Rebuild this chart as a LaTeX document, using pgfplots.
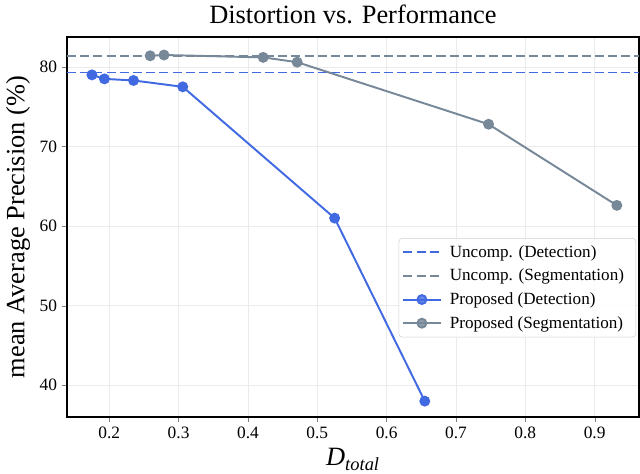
\documentclass[border=0pt]{standalone}
\usepackage{fontspec}
\setmainfont{Liberation Serif}
\usepackage{pgfplots}
\pgfplotsset{compat=1.18}
\usetikzlibrary{calc}

\definecolor{detblue}{RGB}{65,105,225}
\definecolor{seggray}{RGB}{119,136,153}

\begin{document}
\begin{tikzpicture}
\begin{axis}[
    name=ax,
    scale only axis,
    width=411.8pt, height=273.6pt,
    xmin=0.139, xmax=0.964,
    ymin=36, ymax=83.77,
    xtick={0.2,0.3,0.4,0.5,0.6,0.7,0.8,0.9},
    ytick={40,50,60,70,80},
    xticklabel style={/pgf/number format/fixed,/pgf/number format/precision=1},
    /pgf/number format/assume math mode=true,
    tick label style={font=\fontsize{12.5}{14}\selectfont},
    tick align=outside,
    tick pos=left,
    major tick length=3.6pt,
    axis line style={line width=0.8pt},
    grid=major,
    major grid style={line width=0.6pt, color=black!8},
    title={Distortion vs. Performance},
    title style={font=\fontsize{19}{22}\selectfont},
    xlabel={\textit{D}\textsubscript{\textit{total}}},
    ylabel={mean Average Precision (\%)},
    label style={font=\fontsize{19}{22}\selectfont},
    legend style={
        at={(0.9948,0.471)}, anchor=north east,
        font=\fontsize{12.3}{14}\selectfont,
        draw=black!18, rounded corners=2.5pt,
        fill=white, fill opacity=0.8, text opacity=1,
        inner xsep=2.5pt, inner ysep=3pt,
        row sep=3pt,
        nodes={inner xsep=6pt},
    },
    legend cell align=left,
    legend image code/.code={
        \draw[mark repeat=2,mark phase=2] plot coordinates {(0cm,0cm) (0.47cm,0cm) (0.94cm,0cm)};
    },
]

\addplot[detblue, line width=1.4pt, dash pattern=on 6.5pt off 3pt] coordinates {(0.139,79.3) (0.964,79.3)};
\addlegendentry{Uncomp. (Detection)}

\addplot[seggray, line width=1.4pt, dash pattern=on 6.5pt off 3pt] coordinates {(0.139,81.4) (0.964,81.4)};
\addlegendentry{Uncomp. (Segmentation)}

\addplot[detblue, line width=1.4pt, mark=*, mark size=3.2pt, mark options={solid, fill=detblue, draw=detblue}] coordinates {
    (0.175,79.0) (0.193,78.5) (0.235,78.3) (0.306,77.5) (0.525,61.0) (0.655,38.0)
};
\addlegendentry{Proposed (Detection)}

\addplot[seggray, line width=1.4pt, mark=*, mark size=3.2pt, mark options={solid, fill=seggray, draw=seggray}] coordinates {
    (0.259,81.4) (0.279,81.5) (0.422,81.2) (0.471,80.6) (0.747,72.8) (0.932,62.6)
};
\addlegendentry{Proposed (Segmentation)}

\end{axis}
\pgfresetboundingbox
\path[use as bounding box] ($(ax.south west)+(-48.2pt,-41pt)$) rectangle ($(ax.north east)+(0.7pt,26.6pt)$);
\end{tikzpicture}
\end{document}
